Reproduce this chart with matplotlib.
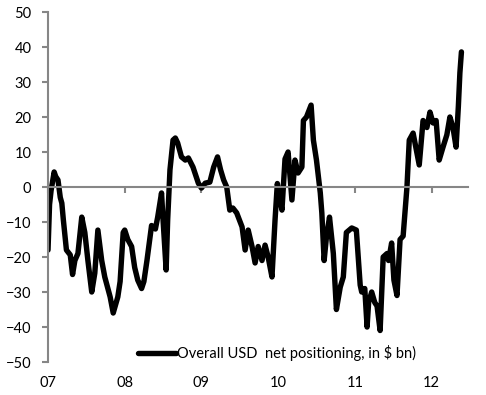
import numpy as np
import matplotlib
matplotlib.use('Agg')
import matplotlib.pyplot as plt

# weekly-ish trace, x in years since 2000
yr = [7.00, 7.02, 7.04, 7.08, 7.10, 7.13, 7.16, 7.18, 7.20, 7.24,
      7.29, 7.32, 7.35, 7.39, 7.44, 7.48, 7.52, 7.57, 7.61, 7.65,
      7.70, 7.74, 7.81, 7.85, 7.91, 7.94, 7.98, 8.00, 8.04, 8.09,
      8.13, 8.17, 8.22, 8.25, 8.29, 8.35, 8.40, 8.43, 8.48, 8.50,
      8.54, 8.56, 8.59, 8.63, 8.66, 8.69, 8.74, 8.79, 8.83, 8.89,
      8.96, 9.00, 9.05, 9.11, 9.16, 9.21, 9.25, 9.29, 9.33, 9.37,
      9.41, 9.46, 9.53, 9.57, 9.61, 9.66, 9.70, 9.74, 9.79, 9.83,
      9.87, 9.92, 9.96, 9.99, 10.02, 10.05, 10.09, 10.13, 10.18, 10.22,
      10.26, 10.31, 10.33, 10.37, 10.43, 10.46, 10.50, 10.55, 10.57, 10.60,
      10.63, 10.67, 10.72, 10.76, 10.81, 10.85, 10.89, 10.96, 11.02, 11.07,
      11.09, 11.13, 11.16, 11.18, 11.22, 11.26, 11.29, 11.33, 11.37, 11.42,
      11.44, 11.48, 11.51, 11.55, 11.59, 11.63, 11.68, 11.71, 11.76, 11.81,
      11.84, 11.89, 11.94, 11.98, 12.02, 12.06, 12.10, 12.15, 12.20, 12.24,
      12.28, 12.32, 12.35, 12.37, 12.39]
usd = [-18, -5, -1, 4.3, 3, 2, -3, -4.6, -9.4, -18,
       -19.4, -25, -21, -19, -8.6, -13, -21, -30, -24.6, -12.3,
       -21, -25.7, -31.4, -36, -31.4, -27, -13, -12.3, -15, -17,
       -23, -26.6, -29, -27, -21, -11, -12, -8.6, -1.7, -9.4,
       -23.7, -9.4, 4.9, 13.4, 14, 12.6, 8.6, 7.7, 8.3, 5.7,
       1.1, -0.3, 1.1, 1.4, 5.7, 8.6, 4.9, 2, 0, -6.6,
       -6, -7.4, -11.4, -18, -12.3, -17, -21.7, -17, -21, -16.6,
       -20, -25.7, -9.4, 1, -3, -6.6, 8, 10, -3.7, 7.7,
       4, 5.7, 19, 20, 23.4, 13.4, 7.7, -1.7, -7.4, -21,
       -14.3, -8.6, -19, -35, -28.6, -25.7, -13, -11.7, -12.3, -28,
       -30, -29, -40, -33, -30, -33, -34, -41, -20, -19,
       -21, -16, -26.6, -31, -15, -14, 0, 13.4, 15.4, 9.7,
       6.3, 19, 17, 21.4, 18.3, 19, 7.7, 11.4, 14.9, 20,
       17, 11.4, 23, 32.6, 38.6]

year_ticks = [7, 8, 9, 10, 11, 12]
year_labels = ['07', '08', '09', '10', '11', '12']
y_ticks = np.arange(-50, 51, 10)

plt.rcParams['font.family'] = ['Lato', 'DejaVu Sans']
fig = plt.figure(figsize=(4.86, 3.95), dpi=100)
ax = fig.add_axes([0.0988, 0.0835, 0.8642, 0.8861])

grey = '#868686'
ax.plot(yr, usd, color='black', lw=3.9, solid_joinstyle='round', solid_capstyle='round',
        label='Overall USD  net positioning, in $ bn)')

ax.set_xlim(7, 12.476)
ax.set_ylim(-50, 50)

ax.spines['top'].set_visible(False)
ax.spines['right'].set_visible(False)
ax.spines['left'].set_color(grey)
ax.spines['left'].set_linewidth(1.5)
ax.spines['bottom'].set_position(('data', 0))
ax.spines['bottom'].set_color(grey)
ax.spines['bottom'].set_linewidth(1.5)

ax.set_yticks(y_ticks)
ax.tick_params(axis='y', direction='out', length=4, width=1.5, color=grey,
               labelsize=10.5, pad=8, labelcolor='black')
ax.set_xticks(year_ticks)
ax.set_xticklabels([])
ax.tick_params(axis='x', direction='out', length=4, width=1.5, color=grey)

# year labels sit at the bottom of the plot, not on the zero line
sec = ax.secondary_xaxis(0)
sec.set_xticks(year_ticks)
sec.set_xticklabels(year_labels)
sec.spines['bottom'].set_visible(False)
sec.tick_params(length=0, labelsize=10.5, pad=10)

leg = ax.legend(loc='lower left', bbox_to_anchor=(0.2, -0.015), frameon=False,
                handlelength=2.6, handletextpad=0.1, fontsize=10.5, borderaxespad=0)

fig.savefig('out.png', dpi=100)
